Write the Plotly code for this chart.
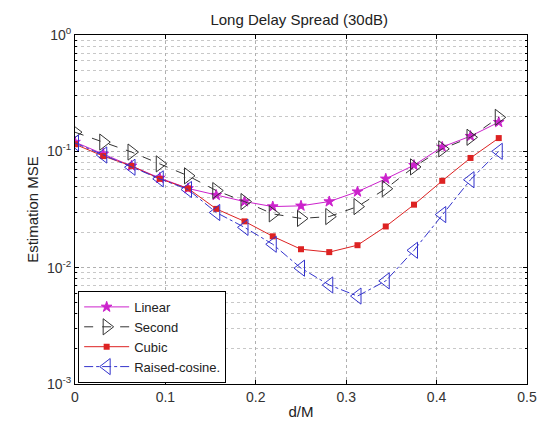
import plotly.graph_objects as go

k = list(range(16))
x_vals = [i / 32 for i in k]

linear = [0.120, 0.095, 0.075, 0.059, 0.048, 0.042, 0.037, 0.0335, 0.034, 0.037,
          0.045, 0.058, 0.076, 0.109, 0.135, 0.178]
second = [0.146, 0.120, 0.0986, 0.078, 0.0616, 0.046, 0.037, 0.029, 0.0265, 0.0275,
          0.0335, 0.0477, 0.0735, 0.105, 0.132, 0.196]
cubic = [0.115, 0.091, 0.075, 0.058, 0.048, 0.032, 0.025, 0.0186, 0.0144, 0.0136,
         0.0156, 0.0226, 0.0348, 0.0558, 0.0877, 0.130]
raised = [0.118, 0.093, 0.073, 0.058, 0.047, 0.0298, 0.0222, 0.0159, 0.0099, 0.0071,
          0.0057, 0.0077, 0.0141, 0.0286, 0.057, 0.100]

y_tickvals = [1, 0.1, 0.01, 0.001]
y_ticktext = ["10<sup>0</sup>", "10<sup>-1</sup>", "10<sup>-2</sup>", "10<sup>-3</sup>"]
y_minorvals = [m * d for d in [0.001, 0.01, 0.1] for m in range(2, 10)]
x_tickvals = [0, 0.1, 0.2, 0.3, 0.4, 0.5]
x_ticktext = ["0", "0.1", "0.2", "0.3", "0.4", "0.5"]

fig = go.Figure()
fig.add_trace(go.Scatter(x=x_vals, y=linear, name="Linear", mode="lines+markers",
                         line=dict(color="#cc22cc", width=1, dash="solid"),
                         marker=dict(symbol="star", size=8, color="#cc22cc",
                                     line=dict(color="#cc22cc", width=1))))
fig.add_trace(go.Scatter(x=x_vals, y=second, name="Second", mode="lines+markers",
                         line=dict(color="#333333", width=1, dash="dash"),
                         marker=dict(symbol="triangle-right-open", size=14, color="#333333",
                                     line=dict(color="#333333", width=1))))
fig.add_trace(go.Scatter(x=x_vals, y=cubic, name="Cubic", mode="lines+markers",
                         line=dict(color="#dd2222", width=1, dash="solid"),
                         marker=dict(symbol="square", size=6, color="#dd2222")))
fig.add_trace(go.Scatter(x=x_vals, y=raised, name="Raised-cosine.", mode="lines+markers",
                         line=dict(color="#3333cc", width=1, dash="dashdot"),
                         marker=dict(symbol="triangle-left-open", size=14, color="#3333cc",
                                     line=dict(color="#3333cc", width=1))))

axis_common = dict(showline=True, linecolor="black", linewidth=1, mirror="ticks",
                   ticks="inside", ticklen=4, tickcolor="black",
                   showgrid=True, gridcolor="#b0b0b0", griddash="dot", gridwidth=1,
                   zeroline=False, tickfont=dict(size=14, color="#333333"))

fig.update_xaxes(range=[0, 0.5], tickvals=x_tickvals, ticktext=x_ticktext,
                 title=dict(text="d/M", font=dict(size=15, color="#222222"), standoff=2),
                 **axis_common)
fig.update_yaxes(type="log", range=[-3, 0], tickvals=y_tickvals, ticktext=y_ticktext,
                 title=dict(text="Estimation MSE", font=dict(size=15, color="#222222"), standoff=4),
                 minor=dict(tickmode="array", tickvals=y_minorvals, showgrid=True,
                            gridcolor="#c8c8c8", griddash="dot",
                            ticks="inside", ticklen=2, tickcolor="black"),
                 **axis_common)

fig.update_layout(
    width=549, height=429,
    margin=dict(l=75, r=21, t=35, b=42),
    paper_bgcolor="white", plot_bgcolor="white",
    font=dict(family="Liberation Sans, Arial, sans-serif", size=14, color="#222222"),
    title=dict(text="Long Delay Spread (30dB)", x=0.545, xanchor="center",
               y=0.955, yanchor="middle", font=dict(size=15, color="#222222")),
    legend=dict(x=0.007, y=0.003, xanchor="left", yanchor="bottom",
                bgcolor="white", bordercolor="black", borderwidth=1,
                font=dict(size=13, color="#222222"), tracegroupgap=0,
                itemwidth=45),
    showlegend=True,
)

fig.write_html("out.html")
